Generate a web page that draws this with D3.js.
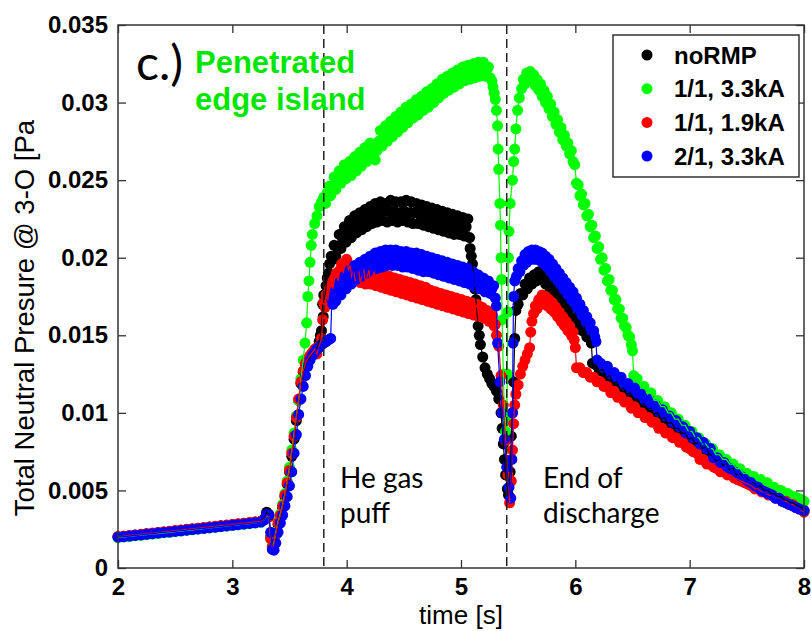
<!DOCTYPE html>
<html>
<head>
<meta charset="utf-8">
<script src="https://cdn.jsdelivr.net/npm/d3@7"></script>
<style>
  html, body { margin: 0; padding: 0; background: #fff; }
  svg { display: block; }
</style>
</head>
<body>
<svg id="chart" width="811" height="631"></svg>
<script>
// Axis ticks
const xTicks = [2, 3, 4, 5, 6, 7, 8];
const yTicks = [0, 0.005, 0.01, 0.015, 0.02, 0.025, 0.03, 0.035];
const yTickLabels = ["0", "0.005", "0.01", "0.015", "0.02", "0.025", "0.03", "0.035"];

// Event markers (s): He gas puff, end of discharge
const eventTimes = [3.8, 5.4];

// Series: [time (s), total neutral pressure (Pa)]
const noRMP = [
  [2.00,0.00201],[2.05,0.00204],[2.10,0.00207],[2.15,0.00212],[2.20,0.00215],[2.25,0.00220],[2.30,0.00223],[2.35,0.00228],[2.40,0.00231],[2.45,0.00236],
  [2.50,0.00240],[2.55,0.00243],[2.60,0.00248],[2.65,0.00251],[2.70,0.00256],[2.75,0.00259],[2.80,0.00264],[2.85,0.00267],[2.90,0.00272],[2.95,0.00275],
  [3.00,0.00280],[3.05,0.00283],[3.10,0.00288],[3.15,0.00291],[3.20,0.00296],[3.25,0.00302],
  [3.28,0.00318],[3.30,0.00360],[3.32,0.00345],[3.335,0.00200],[3.35,0.00140],[3.365,0.00165],[3.38,0.00215],[3.40,0.00280],[3.42,0.00330],[3.44,0.00390],
  [3.46,0.00460],[3.48,0.00540],[3.50,0.00620],[3.52,0.00720],[3.54,0.00830],[3.56,0.00950],[3.58,0.01080],[3.60,0.01190],[3.62,0.01260],[3.64,0.01310],
  [3.66,0.01340],[3.68,0.01360],[3.70,0.01385],[3.72,0.01400],[3.74,0.01420],[3.76,0.01460],[3.77,0.01500],[3.78,0.01530],
  [3.79,0.01700],[3.795,0.01620],[3.80,0.01760],[3.81,0.01730],[3.82,0.01820],[3.83,0.01870],[3.84,0.01900],[3.85,0.01960],[3.865,0.02010],[3.88,0.01990],
  [3.89,0.02080],[3.905,0.02010],[3.92,0.02070],[3.935,0.02150],[3.95,0.02060],[3.965,0.02120],[3.98,0.02200],[3.995,0.02100],[4.01,0.02160],[4.025,0.02240],
  [4.04,0.02130],[4.055,0.02190],[4.07,0.02270],[4.085,0.02160],[4.10,0.02220],[4.115,0.02290],[4.13,0.02180],[4.145,0.02240],[4.16,0.02310],[4.175,0.02200],
  [4.19,0.02260],[4.205,0.02330],[4.22,0.02220],[4.235,0.02280],[4.25,0.02350],[4.265,0.02230],[4.28,0.02290],[4.295,0.02360],[4.31,0.02240],[4.325,0.02300],
  [4.34,0.02350],[4.355,0.02230],[4.37,0.02300],[4.385,0.02370],[4.40,0.02240],[4.415,0.02300],[4.43,0.02360],[4.445,0.02230],[4.46,0.02290],[4.475,0.02360],
  [4.49,0.02240],[4.505,0.02300],[4.52,0.02370],[4.535,0.02230],[4.55,0.02290],[4.565,0.02360],[4.58,0.02220],[4.595,0.02290],[4.61,0.02350],[4.625,0.02220],
  [4.64,0.02280],[4.655,0.02340],[4.67,0.02210],[4.685,0.02270],[4.70,0.02330],[4.715,0.02200],[4.73,0.02260],[4.745,0.02320],[4.76,0.02190],[4.775,0.02250],
  [4.79,0.02310],[4.805,0.02180],[4.82,0.02240],[4.835,0.02300],[4.85,0.02170],[4.865,0.02230],[4.88,0.02290],[4.895,0.02160],[4.91,0.02220],[4.925,0.02280],
  [4.94,0.02150],[4.955,0.02210],[4.97,0.02270],[4.985,0.02150],[5.00,0.02200],[5.015,0.02260],[5.03,0.02140],[5.045,0.02200],[5.06,0.02250],[5.075,0.02130],
  [5.08,0.02060],[5.09,0.02010],[5.10,0.01960],[5.11,0.01900],[5.12,0.01800],[5.13,0.01730],[5.14,0.01640],[5.15,0.01560],[5.16,0.01500],[5.17,0.01440],
  [5.19,0.01360],[5.21,0.01290],[5.23,0.01250],[5.25,0.01220],[5.27,0.01190],[5.29,0.01170],[5.31,0.01140],[5.33,0.01090],[5.35,0.01000],[5.36,0.00900],
  [5.37,0.00800],[5.38,0.00700],[5.39,0.00600],[5.405,0.00510],[5.415,0.00470],[5.43,0.00620],[5.44,0.00850],[5.45,0.01000],[5.46,0.01200],[5.47,0.01480],
  [5.48,0.01660],[5.50,0.01700],[5.52,0.01770],[5.54,0.01760],[5.56,0.01830],[5.58,0.01800],[5.60,0.01870],[5.62,0.01830],[5.64,0.01890],[5.66,0.01850],
  [5.68,0.01910],[5.70,0.01860],[5.72,0.01890],[5.74,0.01830],[5.76,0.01870],[5.78,0.01800],[5.80,0.01840],[5.82,0.01770],[5.84,0.01800],[5.86,0.01730],
  [5.88,0.01760],[5.90,0.01690],[5.92,0.01720],[5.94,0.01650],[5.96,0.01680],[5.98,0.01610],[6.00,0.01640],[6.02,0.01570],[6.04,0.01590],[6.06,0.01530],
  [6.08,0.01550],[6.10,0.01490],[6.12,0.01500],[6.14,0.01450],[6.15,0.01320],[6.18,0.01310],[6.21,0.01270],[6.24,0.01280],[6.27,0.01230],[6.30,0.01240],
  [6.33,0.01190],[6.36,0.01200],[6.39,0.01150],[6.42,0.01160],[6.45,0.01120],[6.48,0.01130],[6.51,0.01080],[6.54,0.01090],[6.57,0.01050],[6.60,0.01060],
  [6.63,0.01020],[6.66,0.01030],[6.69,0.00990],[6.72,0.01000],[6.75,0.00960],[6.78,0.00970],[6.81,0.00930],[6.84,0.00940],[6.87,0.00900],[6.90,0.00900],
  [6.93,0.00870],[6.96,0.00870],[6.99,0.00830],[7.02,0.00840],[7.05,0.00800],[7.08,0.00810],[7.11,0.00770],[7.14,0.00780],[7.17,0.00740],[7.20,0.00720],
  [7.23,0.00690],[7.26,0.00700],[7.29,0.00660],[7.32,0.00670],[7.35,0.00630],[7.38,0.00640],[7.41,0.00600],[7.44,0.00610],[7.47,0.00580],[7.50,0.00580],
  [7.53,0.00550],[7.56,0.00550],[7.59,0.00520],[7.62,0.00530],[7.65,0.00500],[7.68,0.00500],[7.71,0.00480],[7.74,0.00480],[7.77,0.00460],[7.80,0.00460],
  [7.83,0.00440],[7.86,0.00430],[7.89,0.00420],[7.92,0.00410],[7.95,0.00400],[7.98,0.00390],[8.00,0.00370]
];

const m11_33kA = [
  [2.00,0.00196],[2.05,0.00200],[2.10,0.00203],[2.15,0.00208],[2.20,0.00211],[2.25,0.00215],[2.30,0.00219],[2.35,0.00222],[2.40,0.00227],[2.45,0.00230],
  [2.50,0.00235],[2.55,0.00238],[2.60,0.00243],[2.65,0.00246],[2.70,0.00250],[2.75,0.00254],[2.80,0.00258],[2.85,0.00262],[2.90,0.00266],[2.95,0.00270],
  [3.00,0.00274],[3.05,0.00278],[3.10,0.00282],[3.15,0.00286],[3.20,0.00290],[3.25,0.00295],
  [3.28,0.00310],[3.30,0.00335],[3.32,0.00330],[3.335,0.00190],[3.35,0.00135],[3.365,0.00170],[3.38,0.00230],[3.40,0.00300],[3.42,0.00350],[3.44,0.00410],
  [3.46,0.00480],[3.48,0.00560],[3.50,0.00650],[3.52,0.00760],[3.54,0.00870],[3.56,0.00980],[3.58,0.01080],[3.60,0.01220],[3.62,0.01340],[3.635,0.01450],
  [3.65,0.01580],[3.66,0.01750],[3.67,0.01850],[3.68,0.01970],[3.69,0.02080],[3.70,0.02150],[3.72,0.02220],[3.74,0.02270],[3.76,0.02330],[3.78,0.02360],
  [3.80,0.02390],[3.815,0.02350],[3.83,0.02420],[3.845,0.02460],[3.86,0.02400],[3.875,0.02460],[3.89,0.02520],[3.905,0.02440],[3.92,0.02500],[3.935,0.02560],
  [3.95,0.02480],[3.965,0.02530],[3.98,0.02600],[3.995,0.02510],[4.01,0.02560],[4.025,0.02620],[4.04,0.02530],[4.055,0.02590],[4.07,0.02650],[4.085,0.02560],
  [4.10,0.02620],[4.115,0.02680],[4.13,0.02590],[4.145,0.02650],[4.16,0.02710],[4.175,0.02620],[4.19,0.02680],[4.205,0.02740],[4.22,0.02650],[4.235,0.02710],
  [4.25,0.02630],[4.265,0.02690],[4.28,0.02750],[4.295,0.02820],[4.31,0.02720],[4.325,0.02780],[4.34,0.02850],[4.355,0.02750],[4.37,0.02810],[4.385,0.02880],
  [4.40,0.02780],[4.415,0.02840],[4.43,0.02910],[4.445,0.02810],[4.46,0.02870],[4.475,0.02940],[4.49,0.02840],[4.505,0.02900],[4.52,0.02970],[4.535,0.02870],
  [4.55,0.02930],[4.565,0.02990],[4.58,0.02900],[4.595,0.02960],[4.61,0.03020],[4.625,0.02920],[4.64,0.02980],[4.655,0.03040],[4.67,0.02950],[4.685,0.03010],
  [4.70,0.03070],[4.715,0.02970],[4.73,0.03030],[4.745,0.03090],[4.76,0.03000],[4.775,0.03060],[4.79,0.03120],[4.805,0.03030],[4.82,0.03090],[4.835,0.03150],
  [4.85,0.03060],[4.865,0.03110],[4.88,0.03170],[4.895,0.03080],[4.91,0.03130],[4.925,0.03190],[4.94,0.03100],[4.955,0.03150],[4.97,0.03210],[4.985,0.03120],
  [5.00,0.03170],[5.015,0.03230],[5.03,0.03140],[5.045,0.03190],[5.06,0.03240],[5.075,0.03150],[5.09,0.03200],[5.105,0.03250],[5.12,0.03160],[5.135,0.03210],
  [5.15,0.03260],[5.165,0.03170],[5.18,0.03210],[5.195,0.03260],[5.21,0.03170],[5.225,0.03210],[5.24,0.03230],[5.255,0.03160],[5.27,0.03140],[5.28,0.03100],
  [5.29,0.03060],[5.30,0.03020],[5.31,0.02950],[5.32,0.02850],
  [5.325,0.02700],[5.33,0.02570],[5.34,0.02350],[5.345,0.02210],[5.35,0.02000],[5.355,0.01860],[5.36,0.01600],[5.37,0.01250],[5.38,0.01000],[5.39,0.00880],
  [5.40,0.00950],[5.405,0.01250],[5.41,0.01650],[5.415,0.02000],[5.42,0.02170],[5.43,0.02350],[5.45,0.02500],[5.46,0.02620],[5.47,0.02700],[5.48,0.02830],
  [5.495,0.02950],[5.51,0.03030],[5.53,0.03090],[5.545,0.03150],[5.56,0.03120],[5.575,0.03190],[5.59,0.03150],[5.605,0.03200],[5.62,0.03140],[5.635,0.03180],
  [5.65,0.03110],[5.665,0.03150],[5.68,0.03080],[5.695,0.03120],[5.71,0.03040],[5.725,0.03080],[5.74,0.03000],[5.755,0.03040],[5.77,0.02960],[5.785,0.02990],
  [5.80,0.02910],[5.815,0.02940],[5.83,0.02860],[5.845,0.02890],[5.86,0.02810],[5.875,0.02840],[5.89,0.02760],[5.905,0.02790],[5.92,0.02720],[5.935,0.02740],
  [5.95,0.02670],[5.965,0.02690],[5.98,0.02620],[5.995,0.02600],[6.01,0.02480],[6.025,0.02470],[6.04,0.02400],[6.055,0.02410],[6.07,0.02340],[6.085,0.02350],
  [6.10,0.02270],[6.115,0.02280],[6.13,0.02200],[6.145,0.02210],[6.16,0.02130],[6.175,0.02140],[6.19,0.02060],[6.205,0.02070],[6.22,0.01990],[6.235,0.02000],
  [6.25,0.01920],[6.265,0.01930],[6.28,0.01850],[6.295,0.01860],[6.31,0.01790],[6.325,0.01790],[6.34,0.01730],[6.355,0.01730],[6.37,0.01670],[6.385,0.01670],
  [6.40,0.01610],[6.415,0.01610],[6.43,0.01560],[6.445,0.01550],[6.46,0.01500],[6.475,0.01490],[6.49,0.01440],[6.50,0.01400],[6.51,0.01240],[6.54,0.01220],
  [6.57,0.01170],[6.60,0.01170],[6.63,0.01120],[6.66,0.01130],[6.69,0.01080],[6.72,0.01080],[6.75,0.01040],[6.78,0.01040],[6.81,0.01000],[6.84,0.01000],
  [6.87,0.00960],[6.90,0.00960],[6.93,0.00920],[6.96,0.00920],[6.99,0.00880],[7.02,0.00880],[7.05,0.00840],[7.08,0.00840],[7.11,0.00800],[7.14,0.00800],
  [7.17,0.00770],[7.20,0.00770],[7.23,0.00730],[7.26,0.00730],[7.29,0.00700],[7.32,0.00700],[7.35,0.00670],[7.38,0.00670],[7.41,0.00640],[7.44,0.00640],
  [7.47,0.00610],[7.50,0.00610],[7.53,0.00590],[7.56,0.00590],[7.59,0.00560],[7.62,0.00570],[7.65,0.00540],[7.68,0.00550],[7.71,0.00520],[7.74,0.00520],
  [7.77,0.00500],[7.80,0.00500],[7.83,0.00480],[7.86,0.00480],[7.89,0.00460],[7.92,0.00460],[7.95,0.00450],[7.98,0.00440],[8.00,0.00430]
];

const m11_19kA = [
  [2.00,0.00203],[2.05,0.00205],[2.10,0.00210],[2.15,0.00213],[2.20,0.00217],[2.25,0.00221],[2.30,0.00225],[2.35,0.00229],[2.40,0.00233],[2.45,0.00237],
  [2.50,0.00241],[2.55,0.00245],[2.60,0.00249],[2.65,0.00253],[2.70,0.00257],[2.75,0.00261],[2.80,0.00265],[2.85,0.00269],[2.90,0.00273],[2.95,0.00277],
  [3.00,0.00281],[3.05,0.00285],[3.10,0.00289],[3.15,0.00293],[3.20,0.00297],[3.25,0.00301],
  [3.28,0.00312],[3.30,0.00340],[3.32,0.00330],[3.335,0.00190],[3.35,0.00135],[3.365,0.00160],[3.38,0.00220],[3.40,0.00290],[3.42,0.00340],[3.44,0.00400],
  [3.46,0.00470],[3.48,0.00550],[3.50,0.00630],[3.52,0.00740],[3.54,0.00850],[3.56,0.00970],[3.58,0.01090],[3.60,0.01200],[3.62,0.01270],[3.64,0.01320],
  [3.66,0.01350],[3.68,0.01370],[3.70,0.01390],[3.72,0.01410],[3.74,0.01380],[3.76,0.01430],[3.78,0.01480],[3.79,0.01600],[3.80,0.01710],[3.81,0.01680],
  [3.82,0.01760],[3.835,0.01730],[3.85,0.01800],[3.865,0.01840],[3.88,0.01800],[3.895,0.01870],[3.91,0.01900],[3.925,0.01850],[3.94,0.01920],[3.955,0.01960],
  [3.97,0.01900],[3.985,0.01960],[4.00,0.01990],[4.015,0.01920],[4.03,0.01950],[4.045,0.01870],[4.06,0.01920],[4.075,0.01850],[4.09,0.01890],[4.105,0.01920],
  [4.12,0.01840],[4.135,0.01890],[4.15,0.01930],[4.165,0.01830],[4.18,0.01880],[4.195,0.01920],[4.21,0.01830],[4.225,0.01880],[4.24,0.01910],[4.255,0.01820],
  [4.27,0.01870],[4.285,0.01900],[4.30,0.01810],[4.315,0.01860],[4.33,0.01890],[4.345,0.01800],[4.36,0.01850],[4.375,0.01880],[4.39,0.01790],[4.405,0.01840],
  [4.42,0.01870],[4.435,0.01780],[4.45,0.01830],[4.465,0.01860],[4.48,0.01770],[4.495,0.01820],[4.51,0.01850],[4.525,0.01760],[4.54,0.01810],[4.555,0.01840],
  [4.57,0.01750],[4.585,0.01800],[4.60,0.01830],[4.615,0.01740],[4.63,0.01790],[4.645,0.01820],[4.66,0.01730],[4.675,0.01780],[4.69,0.01810],[4.705,0.01720],
  [4.72,0.01770],[4.735,0.01790],[4.75,0.01710],[4.765,0.01750],[4.78,0.01780],[4.795,0.01700],[4.81,0.01740],[4.825,0.01770],[4.84,0.01690],[4.855,0.01730],
  [4.87,0.01760],[4.885,0.01680],[4.90,0.01720],[4.915,0.01750],[4.93,0.01670],[4.945,0.01710],[4.96,0.01740],[4.975,0.01660],[4.99,0.01700],[5.005,0.01730],
  [5.02,0.01650],[5.035,0.01690],[5.05,0.01720],[5.065,0.01640],[5.08,0.01680],[5.095,0.01710],[5.11,0.01630],[5.125,0.01670],[5.14,0.01700],[5.155,0.01620],
  [5.17,0.01660],[5.185,0.01680],[5.20,0.01610],[5.215,0.01640],[5.23,0.01660],[5.245,0.01590],[5.26,0.01620],[5.275,0.01630],[5.29,0.01560],[5.30,0.01570],
  [5.31,0.01500],[5.33,0.01430],[5.35,0.01240],[5.37,0.01050],[5.39,0.00820],
  [5.41,0.00600],[5.425,0.00420],[5.44,0.00560],[5.45,0.00760],[5.46,0.00930],[5.47,0.01050],[5.48,0.01120],[5.50,0.01180],[5.52,0.01250],[5.54,0.01300],
  [5.56,0.01340],[5.58,0.01380],[5.60,0.01420],[5.61,0.01520],[5.62,0.01590],[5.635,0.01640],[5.65,0.01690],[5.665,0.01670],[5.68,0.01730],[5.695,0.01700],
  [5.71,0.01760],[5.725,0.01710],[5.74,0.01750],[5.755,0.01690],[5.77,0.01730],[5.785,0.01670],[5.80,0.01710],[5.815,0.01650],[5.83,0.01680],[5.845,0.01620],
  [5.86,0.01650],[5.875,0.01590],[5.89,0.01620],[5.905,0.01560],[5.92,0.01590],[5.935,0.01530],[5.95,0.01560],[5.965,0.01500],[5.98,0.01520],[5.99,0.01470],
  [6.00,0.01420],[6.01,0.01290],[6.04,0.01290],[6.07,0.01260],[6.10,0.01260],[6.13,0.01230],[6.16,0.01230],[6.19,0.01200],[6.22,0.01200],[6.25,0.01170],
  [6.28,0.01170],[6.31,0.01130],[6.34,0.01140],[6.37,0.01100],[6.40,0.01100],[6.43,0.01070],[6.46,0.01070],[6.49,0.01030],[6.52,0.01040],[6.55,0.01000],
  [6.58,0.01000],[6.61,0.00970],[6.64,0.00970],[6.67,0.00940],[6.70,0.00940],[6.73,0.00900],[6.76,0.00900],[6.79,0.00870],[6.82,0.00870],[6.85,0.00840],
  [6.88,0.00840],[6.91,0.00810],[6.94,0.00810],[6.97,0.00780],[7.00,0.00770],[7.03,0.00750],[7.06,0.00740],[7.09,0.00700],[7.12,0.00700],[7.15,0.00670],
  [7.18,0.00670],[7.21,0.00650],[7.24,0.00640],[7.27,0.00620],[7.30,0.00620],[7.33,0.00600],[7.36,0.00600],[7.39,0.00580],[7.42,0.00570],[7.45,0.00560],
  [7.48,0.00550],[7.51,0.00540],[7.54,0.00530],[7.57,0.00510],[7.60,0.00510],[7.63,0.00490],[7.66,0.00490],[7.69,0.00470],[7.72,0.00470],[7.75,0.00450],
  [7.78,0.00450],[7.81,0.00430],[7.84,0.00430],[7.87,0.00410],[7.90,0.00410],[7.93,0.00390],[7.96,0.00380],[8.00,0.00360]
];

const m21_33kA = [
  [2.00,0.00199],[2.05,0.00202],[2.10,0.00206],[2.15,0.00210],[2.20,0.00213],[2.25,0.00217],[2.30,0.00221],[2.35,0.00225],[2.40,0.00229],[2.45,0.00232],
  [2.50,0.00236],[2.55,0.00240],[2.60,0.00244],[2.65,0.00248],[2.70,0.00252],[2.75,0.00255],[2.80,0.00259],[2.85,0.00263],[2.90,0.00267],[2.95,0.00271],
  [3.00,0.00275],[3.05,0.00279],[3.10,0.00283],[3.15,0.00287],[3.20,0.00291],[3.25,0.00296],
  [3.28,0.00310],[3.30,0.00345],[3.32,0.00340],[3.335,0.00230],[3.35,0.00120],[3.365,0.00115],[3.38,0.00160],[3.40,0.00230],[3.42,0.00290],[3.44,0.00340],
  [3.46,0.00400],[3.48,0.00460],[3.50,0.00530],[3.52,0.00620],[3.54,0.00740],[3.56,0.00860],[3.58,0.00990],[3.60,0.01090],[3.62,0.01170],[3.64,0.01240],
  [3.66,0.01300],[3.68,0.01340],[3.70,0.01370],[3.72,0.01390],[3.74,0.01410],[3.76,0.01420],[3.78,0.01440],[3.80,0.01450],[3.82,0.01460],[3.84,0.01470],
  [3.86,0.01480],[3.87,0.01730],[3.88,0.01700],
  [3.89,0.01780],[3.905,0.01720],[3.92,0.01790],[3.935,0.01840],[3.95,0.01760],[3.965,0.01820],[3.98,0.01880],[3.995,0.01800],[4.01,0.01860],[4.025,0.01920],
  [4.04,0.01830],[4.055,0.01890],[4.07,0.01950],[4.085,0.01860],[4.10,0.01910],[4.115,0.01970],[4.13,0.01880],[4.145,0.01930],[4.16,0.01990],[4.175,0.01900],
  [4.19,0.01950],[4.205,0.02010],[4.22,0.01920],[4.235,0.01970],[4.25,0.02030],[4.265,0.01930],[4.28,0.01980],[4.295,0.02040],[4.31,0.01940],[4.325,0.01990],
  [4.34,0.02050],[4.355,0.01950],[4.37,0.02000],[4.385,0.02050],[4.40,0.01950],[4.415,0.02000],[4.43,0.02050],[4.445,0.01950],[4.46,0.02000],[4.475,0.02040],
  [4.49,0.01940],[4.505,0.01990],[4.52,0.02040],[4.535,0.01940],[4.55,0.01990],[4.565,0.02030],[4.58,0.01930],[4.595,0.01980],[4.61,0.02030],[4.625,0.01920],
  [4.64,0.01970],[4.655,0.02020],[4.67,0.01910],[4.685,0.01960],[4.70,0.02010],[4.715,0.01910],[4.73,0.01960],[4.745,0.02000],[4.76,0.01900],[4.775,0.01950],
  [4.79,0.01990],[4.805,0.01890],[4.82,0.01940],[4.835,0.01980],[4.85,0.01880],[4.865,0.01930],[4.88,0.01970],[4.895,0.01870],[4.91,0.01920],[4.925,0.01960],
  [4.94,0.01860],[4.955,0.01900],[4.97,0.01950],[4.985,0.01850],[5.00,0.01890],[5.015,0.01940],[5.03,0.01840],[5.045,0.01880],[5.06,0.01930],[5.075,0.01830],
  [5.09,0.01870],[5.105,0.01910],[5.12,0.01810],[5.135,0.01860],[5.15,0.01890],[5.165,0.01800],[5.18,0.01840],[5.195,0.01870],[5.21,0.01780],[5.225,0.01820],
  [5.24,0.01850],[5.255,0.01770],[5.27,0.01800],[5.285,0.01820],[5.30,0.01740],[5.31,0.01690],[5.32,0.01450],[5.34,0.01200],[5.36,0.01000],[5.38,0.00830],
  [5.40,0.00650],[5.42,0.00520],[5.435,0.00450],[5.445,0.00700],[5.45,0.01000],[5.455,0.01450],[5.46,0.01750],[5.47,0.01850],[5.485,0.01880],[5.50,0.01930],
  [5.515,0.01910],[5.53,0.01980],[5.545,0.01950],[5.56,0.02020],[5.575,0.01970],[5.59,0.02040],[5.605,0.01990],[5.62,0.02050],[5.635,0.01990],[5.65,0.02050],
  [5.665,0.01990],[5.68,0.02040],[5.695,0.01980],[5.71,0.02030],[5.725,0.01960],[5.74,0.02010],[5.755,0.01940],[5.77,0.01990],[5.785,0.01910],[5.80,0.01960],
  [5.815,0.01880],[5.83,0.01930],[5.845,0.01850],[5.86,0.01900],[5.875,0.01820],[5.89,0.01870],[5.905,0.01790],[5.92,0.01840],[5.935,0.01760],[5.95,0.01810],
  [5.965,0.01730],[5.98,0.01780],[5.995,0.01700],[6.01,0.01740],[6.025,0.01660],[6.04,0.01700],[6.055,0.01630],[6.07,0.01660],[6.085,0.01590],[6.10,0.01620],
  [6.115,0.01560],[6.13,0.01580],[6.145,0.01520],[6.16,0.01530],[6.17,0.01490],[6.18,0.01460],[6.19,0.01340],[6.22,0.01320],[6.25,0.01290],[6.28,0.01300],
  [6.31,0.01250],[6.34,0.01260],[6.37,0.01220],[6.40,0.01230],[6.43,0.01180],[6.46,0.01190],[6.49,0.01150],[6.52,0.01160],[6.55,0.01120],[6.58,0.01120],
  [6.61,0.01080],[6.64,0.01090],[6.67,0.01050],[6.70,0.01050],[6.73,0.01010],[6.76,0.01020],[6.79,0.00980],[6.82,0.00980],[6.85,0.00940],[6.88,0.00950],
  [6.91,0.00910],[6.94,0.00910],[6.97,0.00870],[7.00,0.00880],[7.03,0.00840],[7.06,0.00840],[7.09,0.00800],[7.12,0.00810],[7.15,0.00770],[7.18,0.00770],
  [7.21,0.00710],[7.24,0.00710],[7.27,0.00680],[7.30,0.00680],[7.33,0.00650],[7.36,0.00640],[7.39,0.00620],[7.42,0.00610],[7.45,0.00590],[7.48,0.00580],
  [7.51,0.00560],[7.54,0.00550],[7.57,0.00530],[7.60,0.00520],[7.63,0.00500],[7.66,0.00490],[7.69,0.00480],[7.72,0.00470],[7.75,0.00450],[7.78,0.00450],
  [7.81,0.00430],[7.84,0.00420],[7.87,0.00410],[7.90,0.00400],[7.93,0.00390],[7.96,0.00380],[8.00,0.00370]
];

const seriesNames = ["noRMP", "1/1, 3.3kA", "1/1, 1.9kA", "2/1, 3.3kA"];
const seriesColors = ["#000000", "#00ff00", "#ff0000", "#0000ff"];
const seriesData = [noRMP, m11_33kA, m11_19kA, m21_33kA];

const svg = d3.select("#chart");
const W = 811, H = 631;
svg.append("rect").attr("width", W).attr("height", H).attr("fill", "#fff");

const plot = { left: 118, right: 804, top: 25, bottom: 568 };
const x = d3.scaleLinear().domain([2, 8]).range([plot.left, plot.right]);
const y = d3.scaleLinear().domain([0, 0.035]).range([plot.bottom, plot.top]);

const sansFont = "'Liberation Sans', Arial, Helvetica, sans-serif";
const markerR = 5.5;

// Data layer: markers first, then connecting lines on top
const g = svg.append("g");
const line = d3.line().x(d => x(d[0])).y(d => y(d[1]));

seriesData.forEach((data, i) => {
  g.append("g").selectAll("circle").data(data).join("circle")
    .attr("cx", d => x(d[0])).attr("cy", d => y(d[1])).attr("r", markerR)
    .attr("fill", seriesColors[i]);
});
seriesData.forEach((data, i) => {
  g.append("path").datum(data).attr("d", line)
    .attr("fill", "none").attr("stroke", seriesColors[i]).attr("stroke-width", 1.2);
});

// Event lines
svg.append("g").selectAll("line").data(eventTimes).join("line")
  .attr("x1", d => x(d)).attr("x2", d => x(d))
  .attr("y1", plot.top).attr("y2", plot.bottom)
  .attr("stroke", "#222").attr("stroke-width", 1.5).attr("stroke-dasharray", "9,5");

// Axes (ticks inward, full box)
const tickLen = 8;
const axisStyle = sel => {
  sel.select(".domain").remove();
  sel.selectAll(".tick line").attr("stroke", "#333").attr("stroke-width", 1.3);
  sel.selectAll(".tick text").attr("font-family", sansFont).attr("font-weight", "bold")
    .attr("font-size", 24).attr("fill", "#000");
};
svg.append("g").attr("transform", `translate(0,${plot.bottom})`)
  .call(d3.axisBottom(x).tickValues(xTicks).tickFormat(d3.format("d")).tickSizeInner(-tickLen).tickSizeOuter(0).tickPadding(10))
  .call(axisStyle);
svg.append("g").attr("transform", `translate(0,${plot.top})`)
  .call(d3.axisTop(x).tickValues(xTicks).tickFormat("").tickSizeInner(-tickLen).tickSizeOuter(0))
  .call(axisStyle);
svg.append("g").attr("transform", `translate(${plot.left},0)`)
  .call(d3.axisLeft(y).tickValues(yTicks).tickFormat((d, i) => yTickLabels[i]).tickSizeInner(-tickLen).tickSizeOuter(0).tickPadding(10))
  .call(axisStyle);
svg.append("g").attr("transform", `translate(${plot.right},0)`)
  .call(d3.axisRight(y).tickValues(yTicks).tickFormat("").tickSizeInner(-tickLen).tickSizeOuter(0))
  .call(axisStyle);

svg.append("rect").attr("x", plot.left).attr("y", plot.top)
  .attr("width", plot.right - plot.left).attr("height", plot.bottom - plot.top)
  .attr("fill", "none").attr("stroke", "#333").attr("stroke-width", 1.5);

// Axis titles
svg.append("text").attr("x", (plot.left + plot.right) / 2).attr("y", 624)
  .attr("text-anchor", "middle").attr("font-family", sansFont).attr("font-size", 26)
  .text("time [s]");
svg.append("text").attr("transform", "translate(34,318) rotate(-90)")
  .attr("text-anchor", "middle").attr("font-family", sansFont).attr("font-size", 27.5)
  .text("Total Neutral Presure @ 3-O [Pa");

// Legend
const legend = svg.append("g");
legend.append("rect").attr("x", 613).attr("y", 35).attr("width", 186).attr("height", 142)
  .attr("fill", "#fff").attr("stroke", "#333").attr("stroke-width", 1.5);
seriesNames.forEach((name, i) => {
  const ly = 55 + i * 33.7;
  legend.append("circle").attr("cx", 647).attr("cy", ly).attr("r", markerR).attr("fill", seriesColors[i]);
  legend.append("text").attr("x", 674).attr("y", ly + 8.5)
    .attr("font-family", sansFont).attr("font-weight", "bold").attr("font-size", 24)
    .text(name);
});

// Annotations
const noteFont = "Lato, 'Open Sans', sans-serif";
svg.append("text").attr("x", 136).attr("y", 80).attr("font-family", noteFont)
  .attr("font-size", 48).attr("fill", "#000").text("c.)");
svg.append("text").attr("x", 195).attr("y", 73).attr("font-family", sansFont)
  .attr("font-weight", "bold").attr("font-size", 31).attr("fill", "#00e600").text("Penetrated");
svg.append("text").attr("x", 195).attr("y", 110).attr("font-family", sansFont)
  .attr("font-weight", "bold").attr("font-size", 31).attr("fill", "#00e600").text("edge island");

svg.append("text").attr("x", 340).attr("y", 488).attr("font-family", noteFont)
  .attr("font-size", 28).text("He gas");
svg.append("text").attr("x", 340).attr("y", 523).attr("font-family", noteFont)
  .attr("font-size", 28).text("puff");
svg.append("text").attr("x", 543).attr("y", 488).attr("font-family", noteFont)
  .attr("font-size", 28).text("End of");
svg.append("text").attr("x", 543).attr("y", 523).attr("font-family", noteFont)
  .attr("font-size", 28).text("discharge");
</script>
</body>
</html>
